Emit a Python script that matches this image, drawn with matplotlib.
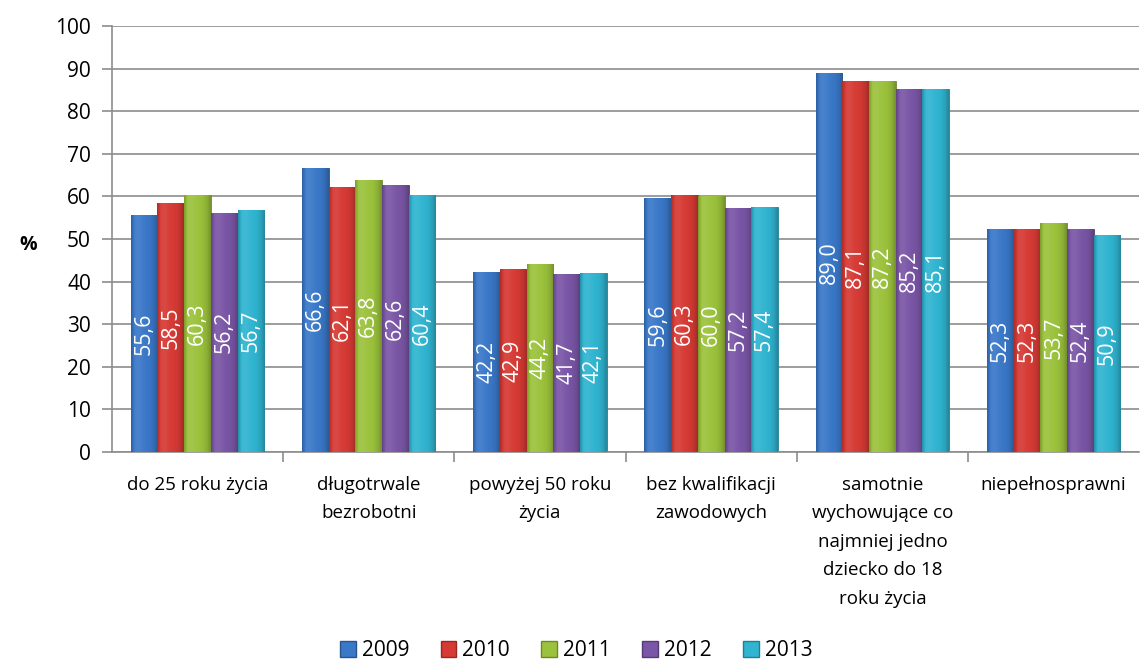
import numpy as np
import matplotlib.pyplot as plt
from matplotlib.colors import to_rgb
from matplotlib.patches import Patch

plt.rcParams["font.family"] = ["Open Sans", "DejaVu Sans"]

# ── Dane ─────────────────────────────────────────────────────────
categories = [
    "do 25 roku życia",
    "długotrwale\nbezrobotni",
    "powyżej 50 roku\nżycia",
    "bez kwalifikacji\nzawodowych",
    "samotnie\nwychowujące co\nnajmniej jedno\ndziecko do 18\nroku życia",
    "niepełnosprawni",
]
years = ["2009", "2010", "2011", "2012", "2013"]
v2009 = [55.6, 66.6, 42.2, 59.6, 89.0, 52.3]
v2010 = [58.5, 62.1, 42.9, 60.3, 87.1, 52.3]
v2011 = [60.3, 63.8, 44.2, 60.0, 87.2, 53.7]
v2012 = [56.2, 62.6, 41.7, 57.2, 85.2, 52.4]
v2013 = [56.7, 60.4, 42.1, 57.4, 85.1, 50.9]
series = [v2009, v2010, v2011, v2012, v2013]
colors = ["#3A78C8", "#D63A34", "#9BC23C", "#7A56A6", "#30B4D0"]

grid_col = "#8C8C8C"


def shade(c, f):
    r = np.array(to_rgb(c))
    if f >= 0:
        return r + (1 - r) * f
    return r * (1 + f)


def gradient_bar(ax, patch, color):
    # pozioma gradacja imitująca efekt 3D z Excela
    x0, y0 = patch.get_x(), patch.get_y()
    w, h = patch.get_width(), patch.get_height()
    prof = np.array([-0.2, 0.06, 0.08, 0.03, 0.0, -0.03, -0.1, -0.25])
    xs = np.linspace(0, 1, 60)
    fs = np.interp(xs, np.linspace(0, 1, len(prof)), prof)
    img = np.array([[np.clip(shade(color, f), 0, 1) for f in fs]])
    im = ax.imshow(img, extent=(x0, x0 + w, y0, y0 + h), aspect="auto",
                   interpolation="bilinear", zorder=3)
    im.set_clip_path(patch)


fig = plt.figure(figsize=(11.41, 6.64), dpi=100)
ax = fig.add_axes([0.098, 0.3193, 0.9005, 0.6415])

n = len(categories)
x = np.arange(n)
bw = 0.156
for k, (vals, col, yr) in enumerate(zip(series, colors, years)):
    pos = x + (k - 2) * bw
    bars = ax.bar(pos, vals, width=bw, color=col, edgecolor=shade(col, -0.3),
                  linewidth=0.6, zorder=2, label=yr)
    for b, v in zip(bars, vals):
        gradient_bar(ax, b, col)
        ax.text(b.get_x() + b.get_width() / 2, v / 2, f"{v:.1f}".replace(".", ","),
                rotation=90, ha="center", va="center", color="white",
                fontsize=15.5, zorder=5)

ax.set_xlim(-0.5, n - 0.5)
ax.set_ylim(0, 100)
ax.set_yticks(np.arange(0, 101, 10))
ax.yaxis.grid(True, color=grid_col, linewidth=1.2, zorder=0)
ax.set_axisbelow(True)

ax.set_xticks(np.arange(0.5, n - 0.5, 1))
ax.set_xticklabels([])
ax.set_xticks(x, minor=True)
ax.set_xticklabels(categories, minor=True, fontsize=13.5, linespacing=1.75,
                   va="top")
ax.tick_params(axis="x", which="minor", length=0, pad=17)
ax.tick_params(axis="x", which="major", length=7, color=grid_col, width=1.2)
ax.tick_params(axis="y", length=7, color=grid_col, width=1.2, labelsize=15,
               pad=8)

for s in ["top", "right"]:
    ax.spines[s].set_visible(False)
for s in ["left", "bottom"]:
    ax.spines[s].set_color(grid_col)
    ax.spines[s].set_linewidth(1.2)

fig.text(0.025, 0.631, "%", fontsize=14, fontweight="bold", ha="center",
         va="center")

handles = [Patch(facecolor=c, edgecolor=shade(c, -0.3)) for c in colors]
fig.legend(handles, years, loc="lower center", bbox_to_anchor=(0.505, -0.024),
           ncol=5, frameon=False, fontsize=15, handlelength=0.75,
           handleheight=0.75, handletextpad=0.3, columnspacing=1.5)

fig.savefig("out.png", dpi=100)
